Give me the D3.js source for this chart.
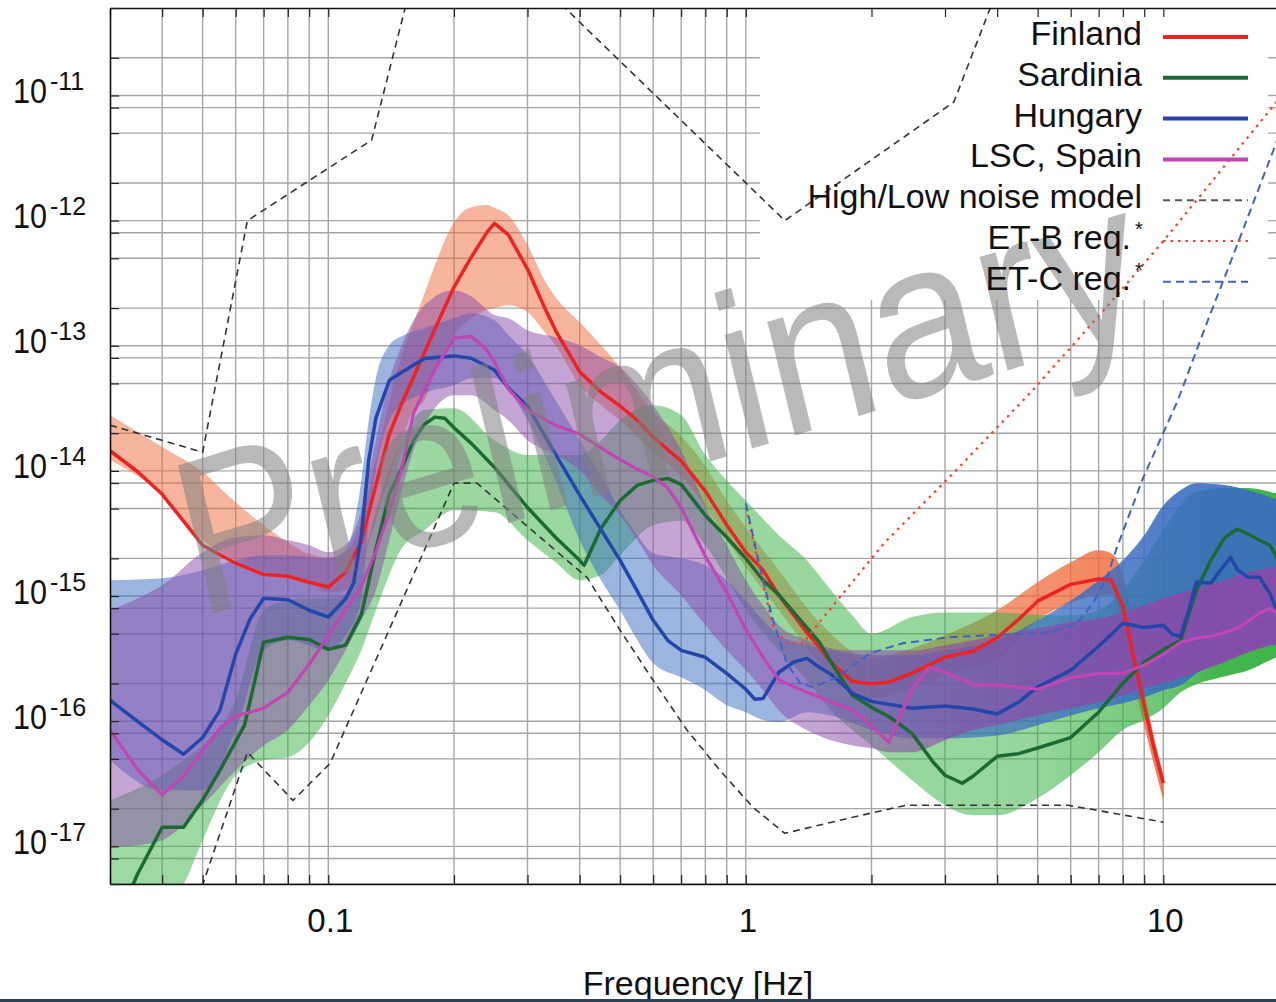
<!DOCTYPE html>
<html>
<head>
<meta charset="utf-8">
<script src="https://cdn.jsdelivr.net/npm/d3@7/dist/d3.min.js"></script>
<style>
	html, body { margin: 0; padding: 0; background: #fff; }
	svg { display: block; font-family: "Liberation Sans", Arial, Helvetica, sans-serif; }
</style>
</head>
<body>
<svg id="chart" width="1276" height="1002"></svg>
<script>

// ---- Finland ----
var finlandFreq = [0.03,0.035,0.04,0.05,0.06,0.07,0.08,0.09,0.1,0.11,0.12,0.13,0.14,0.15,0.16,0.17,0.18,0.2,0.22,0.24,0.25,0.27,0.3,0.33,0.35,0.4,0.45,0.5,0.55,0.6,0.65,0.7,0.8,0.9,1,1.1,1.2,1.3,1.4,1.5,1.6,1.8,2,2.2,2.5,2.8,3,3.5,4,4.5,5,6,7,7.5,8,8.5,9,9.5,10]
var finlandAsd = [1.45e-14,9.8e-15,6.5e-15,2.55e-15,1.83e-15,1.49e-15,1.44e-15,1.29e-15,1.18e-15,1.55e-15,2.72e-15,7.7e-15,1.97e-14,3.47e-14,5.6e-14,8.9e-14,1.36e-13,2.94e-13,5.1e-13,8.1e-13,9.5e-13,7.7e-13,4.1e-13,2.0e-13,1.33e-13,6.2e-14,4.26e-14,3.3e-14,2.54e-14,1.86e-14,1.48e-14,1.2e-14,6.9e-15,3.7e-15,2.24e-15,1.61e-15,1.01e-15,7.1e-16,5.1e-16,3.9e-16,2.96e-16,2.08e-16,1.99e-16,2.05e-16,2.42e-16,2.9e-16,3.24e-16,3.62e-16,4.64e-16,6.5e-16,9.1e-16,1.24e-15,1.37e-15,1.35e-15,8.3e-16,3.18e-16,1.34e-16,6.1e-17,3.2e-17]
var finlandBandFreq = [0.03,0.04,0.05,0.06,0.08,0.09,0.1,0.11,0.12,0.13,0.15,0.16,0.17,0.18,0.2,0.22,0.24,0.25,0.27,0.3,0.33,0.35,0.4,0.45,0.5,0.6,0.7,0.8,0.9,1,1.2,1.5,2,2.5,3,4,5,6,7,7.5,8,8.5,9,10]
var finlandBandHigh = [2.8e-14,1.55e-14,9.8e-15,5.6e-15,2.7e-15,2.16e-15,2.04e-15,2.24e-15,4.0e-15,1.22e-14,8.4e-14,1.52e-13,2.63e-13,4.4e-13,9.7e-13,1.28e-12,1.33e-12,1.26e-12,1.1e-12,6.4e-13,3.3e-13,2.45e-13,1.54e-13,1.01e-13,6.75e-14,2.95e-14,1.89e-14,1.09e-14,5.8e-15,3.55e-15,1.61e-15,6.2e-16,3.18e-16,3.83e-16,4.86e-16,7.7e-16,1.29e-15,1.86e-15,2.32e-15,2.2e-15,1.47e-15,5.3e-16,1.77e-16,3.7e-17]
var finlandBandLow = [1.22e-14,6.4e-15,2.8e-15,1.93e-15,1.39e-15,1.29e-15,1.07e-15,1.11e-15,1.76e-15,4.0e-15,1.76e-14,3.06e-14,3.68e-14,6.4e-14,1.22e-13,1.66e-13,1.93e-13,2.0e-13,2.11e-13,1.86e-13,1.28e-13,1.01e-13,4.85e-14,3.35e-14,2.54e-14,1.41e-14,9.1e-15,5.2e-15,2.8e-15,1.7e-15,7.7e-16,2.96e-16,1.52e-16,1.83e-16,2.33e-16,3.07e-16,6.4e-16,8.9e-16,1.01e-15,1.03e-15,6.2e-16,2.12e-16,9.3e-17,2.33e-17]

// ---- Sardinia ----
var sardiniaFreq = [0.03,0.035,0.04,0.045,0.05,0.055,0.06,0.063,0.07,0.08,0.09,0.1,0.11,0.12,0.13,0.14,0.15,0.16,0.17,0.18,0.19,0.2,0.22,0.25,0.27,0.3,0.35,0.4,0.41,0.45,0.5,0.55,0.6,0.65,0.7,0.8,0.9,1,1.1,1.2,1.4,1.5,1.6,1.8,2,2.2,2.5,2.8,3,3.3,3.5,4,4.5,5,6,7,8,9,10,11,12,13,14,15,16,17,18,20]
var sardiniaAsd = [1.9e-18,6.1e-18,1.42e-17,1.42e-17,2.35e-17,4.05e-17,6.9e-17,9.3e-17,4.28e-16,4.68e-16,4.5e-16,3.75e-16,4.05e-16,7.1e-16,2.37e-15,6.5e-15,1.05e-14,1.76e-14,2.36e-14,2.69e-14,2.64e-14,2.21e-14,1.66e-14,1.07e-14,7.8e-15,5.1e-15,2.95e-15,1.93e-15,1.76e-15,3.48e-15,5.8e-15,7.7e-15,8.4e-15,8.7e-15,7.8e-15,4.4e-15,2.95e-15,2.0e-15,1.34e-15,1.02e-15,5.6e-16,4.28e-16,2.96e-16,1.61e-16,1.29e-16,1.09e-16,8.0e-17,4.78e-17,3.7e-17,3.19e-17,3.63e-17,5.24e-17,5.5e-17,6.1e-17,7.4e-17,1.18e-16,2.01e-16,2.96e-16,3.72e-16,4.43e-16,1.11e-15,1.93e-15,2.9e-15,3.42e-15,3.12e-15,2.79e-15,2.55e-15,1.38e-15]
var sardiniaBandFreq = [0.03,0.04,0.045,0.05,0.06,0.07,0.08,0.09,0.1,0.11,0.12,0.13,0.15,0.17,0.2,0.25,0.3,0.35,0.4,0.45,0.5,0.6,0.7,0.8,0.9,1,1.2,1.4,1.6,1.8,2,2.5,3,3.5,4,5,6,7,8,9,10,11,12,14,16,18,20]
var sardiniaBandHigh = [2.33e-17,3.7e-17,4.87e-17,6.4e-17,1.47e-16,7.7e-16,9.2e-16,9.6e-16,9.6e-16,1.01e-15,1.76e-15,4.85e-15,1.76e-14,3.06e-14,3.17e-14,1.76e-14,1.34e-14,1.34e-14,1.34e-14,1.76e-14,2.54e-14,3.35e-14,2.79e-14,1.34e-14,8.4e-15,5.8e-15,3.06e-15,1.93e-15,1.11e-15,7.0e-16,5.0e-16,6.8e-16,7.4e-16,7.4e-16,7.4e-16,7.1e-16,7.0e-16,7.7e-16,1.11e-15,1.93e-15,3.36e-15,5.3e-15,6.8e-15,7.3e-15,7.3e-15,6.8e-15,6.2e-15]
var sardiniaBandLow = [2.13e-18,3.38e-18,4.97e-18,1.12e-17,3.7e-17,4.87e-17,5.15e-17,6.8e-17,1.11e-16,2.01e-16,3.68e-16,7.7e-16,2.41e-15,3.36e-15,4.85e-15,4.68e-15,2.79e-15,1.86e-15,1.34e-15,1.47e-15,2.12e-15,3.68e-15,4.0e-15,2.55e-15,1.39e-15,7.7e-16,3.68e-16,2.12e-16,1.22e-16,8.5e-17,6.4e-17,3.37e-17,2.13e-17,1.77e-17,1.77e-17,2.42e-17,3.7e-17,5.64e-17,8.5e-17,1.02e-16,1.27e-16,1.70e-16,1.97e-16,2.28e-16,2.55e-16,3.07e-16,3.55e-16]

// ---- Hungary ----
var hungaryFreq = [0.03,0.035,0.04,0.045,0.05,0.055,0.06,0.065,0.07,0.08,0.09,0.1,0.11,0.115,0.12,0.125,0.13,0.14,0.15,0.17,0.2,0.22,0.25,0.27,0.3,0.35,0.4,0.45,0.5,0.55,0.6,0.65,0.7,0.8,0.9,1,1.05,1.1,1.2,1.3,1.4,1.5,1.6,1.8,2,2.5,3,3.5,4,4.5,5,6,7,8,9,10,10.5,11,11.5,12,13,14,14.5,15,16,17,18,20]
var hungaryAsd = [1.47e-16,9.9e-17,7.1e-17,5.44e-17,7.4e-17,1.22e-16,3.43e-16,6.6e-16,9.6e-16,9.35e-16,7.7e-16,6.8e-16,9.5e-16,1.27e-15,3.06e-15,1.22e-14,2.64e-14,5.3e-14,6.15e-14,7.9e-14,8.3e-14,7.95e-14,6.4e-14,4.58e-14,3.29e-14,1.36e-14,6.4e-15,3.39e-15,1.93e-15,1.09e-15,6.4e-16,4.43e-16,3.68e-16,3.24e-16,2.41e-16,1.80e-16,1.50e-16,1.52e-16,2.46e-16,2.96e-16,3.18e-16,2.7e-16,2.37e-16,1.67e-16,1.44e-16,1.27e-16,1.32e-16,1.25e-16,1.14e-16,1.42e-16,1.87e-16,2.55e-16,3.97e-16,6.06e-16,5.6e-16,5.84e-16,4.95e-16,4.77e-16,7.7e-16,1.29e-15,1.27e-15,1.76e-15,2.04e-15,1.64e-15,1.41e-15,1.41e-15,1.05e-15,4.43e-16]
var hungaryBandFreq = [0.03,0.04,0.05,0.06,0.07,0.08,0.1,0.11,0.12,0.125,0.13,0.14,0.15,0.17,0.2,0.22,0.25,0.27,0.3,0.35,0.4,0.45,0.5,0.55,0.6,0.7,0.8,0.9,1,1.1,1.2,1.4,1.6,2,2.5,3,4,5,6,7,8,9,10,11,12,14,16,18,20]
var hungaryBandHigh = [1.34e-15,1.39e-15,1.61e-15,1.93e-15,2.12e-15,2.12e-15,2.0e-15,2.32e-15,8.4e-15,2.54e-14,5.5e-14,1.01e-13,1.19e-13,1.38e-13,1.66e-13,1.82e-13,1.6e-13,1.22e-13,8.4e-14,3.68e-14,1.76e-14,9.2e-15,4.85e-15,3.06e-15,2.2e-15,2.0e-15,1.76e-15,1.34e-15,9.2e-16,6.4e-16,4.86e-16,4.05e-16,3.68e-16,3.36e-16,3.36e-16,3.68e-16,4.43e-16,6.4e-16,9.2e-16,1.34e-15,1.93e-15,3.06e-15,5.3e-15,7.0e-15,7.98e-15,7.7e-15,7.0e-15,6.2e-15,5.3e-15]
var hungaryBandLow = [4.87e-17,2.8e-17,2.8e-17,8.5e-17,3.68e-16,4.43e-16,3.68e-16,4.86e-16,9.2e-16,4.0e-15,1.01e-14,2.54e-14,3.35e-14,4.18e-14,4.85e-14,5.5e-14,5.5e-14,4.42e-14,2.54e-14,8.4e-15,2.8e-15,1.34e-15,7.7e-16,4.43e-16,2.9e-16,2.24e-16,1.77e-16,1.34e-16,1.18e-16,1.02e-16,9.8e-17,1.18e-16,1.11e-16,8.5e-17,7.3e-17,7.3e-17,7.7e-17,9.3e-17,1.11e-16,1.27e-16,1.39e-16,1.55e-16,1.77e-16,1.94e-16,2.41e-16,3.07e-16,3.68e-16,4.05e-16,4.05e-16]

// ---- LSC, Spain ----
var spainFreq = [0.03,0.035,0.04,0.045,0.05,0.055,0.06,0.07,0.08,0.09,0.1,0.11,0.12,0.13,0.14,0.15,0.16,0.17,0.18,0.2,0.22,0.24,0.25,0.27,0.3,0.35,0.4,0.45,0.5,0.55,0.6,0.65,0.7,0.8,0.9,1,1.1,1.2,1.4,1.6,1.8,2,2.2,2.5,2.75,3,3.5,4,4.5,5,6,7,8,9,10,11,12,13,14,15,16,17,18,20]
var spainAsd = [8.5e-17,4.07e-17,2.58e-17,3.63e-17,5.8e-17,8.8e-17,1.1e-16,1.27e-16,1.70e-16,2.85e-16,4.86e-16,7.85e-16,1.2e-15,2.28e-15,4.68e-15,1.05e-14,2.89e-14,4.42e-14,6.5e-14,1.15e-13,1.19e-13,9.2e-14,7.4e-14,4.5e-14,3.06e-14,2.32e-14,1.97e-14,1.53e-14,1.23e-14,1.03e-14,9.0e-15,7.3e-15,5.1e-15,2.08e-15,1.07e-15,5.4e-16,3.24e-16,2.14e-16,1.70e-16,1.43e-16,1.23e-16,9.2e-17,6.8e-17,1.8e-16,2.7e-16,2.46e-16,1.97e-16,1.94e-16,1.87e-16,1.80e-16,2.22e-16,2.41e-16,2.41e-16,2.8e-16,3.43e-16,4.27e-16,4.6e-16,4.77e-16,5.1e-16,5.5e-16,6.3e-16,7.3e-16,8.0e-16,6.4e-16]
var spainBandFreq = [0.03,0.035,0.04,0.05,0.06,0.07,0.08,0.09,0.1,0.11,0.12,0.13,0.14,0.15,0.16,0.17,0.2,0.22,0.25,0.27,0.3,0.35,0.4,0.45,0.5,0.55,0.6,0.7,0.8,0.9,1,1.1,1.2,1.4,1.6,1.8,2,2.2,2.5,3,3.5,4,5,6,7,8,9,10,12,14,16,18,20]
var spainBandHigh = [7.7e-16,9.6e-16,1.22e-15,2.24e-15,2.95e-15,3.06e-15,2.79e-15,2.55e-15,2.24e-15,2.55e-15,4.85e-15,1.76e-14,5.3e-14,1.01e-13,1.6e-13,2.11e-13,2.78e-13,2.49e-13,1.76e-13,1.66e-13,1.33e-13,1.17e-13,1.01e-13,8.1e-14,6.75e-14,4.85e-14,3.35e-14,1.46e-14,5.3e-15,2.55e-15,1.34e-15,8.4e-16,5.84e-16,4.43e-16,3.83e-16,3.68e-16,3.68e-16,3.68e-16,3.68e-16,4.05e-16,4.43e-16,4.86e-16,5.5e-16,6.2e-16,6.6e-16,7.4e-16,8.4e-16,9.6e-16,1.15e-15,1.34e-15,1.55e-15,1.67e-15,1.76e-15]
var spainBandLow = [9.8e-18,1.02e-17,1.12e-17,2.13e-17,4.05e-17,6.4e-17,8.5e-17,1.34e-16,2.12e-16,3.68e-16,6.4e-16,1.11e-15,2.8e-15,7.0e-15,1.46e-14,2.32e-14,4.03e-14,4.03e-14,3.06e-14,2.54e-14,1.76e-14,1.34e-14,1.01e-14,6.4e-15,4.42e-15,2.8e-15,1.76e-15,1.01e-15,5.84e-16,3.68e-16,2.55e-16,1.77e-16,1.22e-16,8.5e-17,7.04e-17,6.4e-17,6.07e-17,5.64e-17,5.64e-17,7.04e-17,8.5e-17,9.3e-17,1.11e-16,1.27e-16,1.42e-16,1.61e-16,1.83e-16,2.01e-16,2.46e-16,2.96e-16,3.55e-16,4.05e-16,4.43e-16]

// ---- reference curves ----
var highModelFreq = [0.03,0.05,0.064,0.127,0.168,0.25,0.369,1.24,3.15,3.85,4.44]
var highModelAsd = [2.32e-14,1.41e-14,1.0e-12,4.4e-12,1.75e-10,1.75e-10,5e-11,1.0e-12,8.86e-12,5e-11,1.75e-10]
var lowModelFreq = [0.0468,0.064,0.0823,0.101,0.2,0.227,0.4165,0.5,0.6,0.723,0.867,1.04,1.24,1.806,2.42,5.91,6.94,10]
var lowModelAsd = [2.56e-18,5.64e-17,2.33e-17,4.6e-17,7.98e-15,7.98e-15,1.41e-15,5.33e-16,2.12e-16,8.5e-17,4.05e-17,2.05e-17,1.27e-17,1.71e-17,2.13e-17,2.13e-17,1.94e-17,1.56e-17]
var etbFreq = [1.0,1.081,1.162,1.255,1.371,1.514,2.143,3.206,4.82,7.21,10,18.34,20]
var etbAsd = [5.1e-15,1.61e-15,5.64e-16,4.2e-16,4.2e-16,6.4e-16,2.64e-15,1.03e-14,4.26e-14,1.93e-13,6.86e-13,8.23e-12,1.19e-11]
var etcFreq = [1.0,1.081,1.162,1.255,1.349,1.449,1.654,1.984,2.379,3.084,5.353,6.214,6.785,7.33,7.745,8.94,10.84,12.73,15.02,18.32,20]
var etcAsd = [5.5e-15,1.7e-15,6.4e-16,2.9e-16,2.01e-16,1.87e-16,2.24e-16,3.49e-16,4.2e-16,4.69e-16,5.13e-16,6.06e-16,8.76e-16,1.41e-15,2.45e-15,8.75e-15,3.68e-14,1.54e-13,6.36e-13,3.6e-12,7.8e-12]

// ---- labels ----
var legendLabels = ['Finland', 'Sardinia', 'Hungary', 'LSC, Spain', 'High/Low noise model', 'ET-B req.', 'ET-C req.']
var yTickExponents = [-11, -12, -13, -14, -15, -16, -17]
var xTickLabels = [0.1, 1, 10]
var xAxisTitle = 'Frequency [Hz]'
var watermarkText = 'Preliminary'


var svg_element = '#chart'
var svg = d3.select(svg_element)
var defs = svg.append('defs')

var plot_left = 110, plot_top = 8, plot_bottom = 884, plot_right = 1289

var xScale = d3.scaleLog().domain([0.03, 20]).range([plot_left, plot_right])
var yScale = d3.scaleLog().domain([5e-18, 5e-11]).range([plot_bottom, plot_top])

defs.append('clipPath').attr('id', 'plot-clip')
	.append('rect')
	.attr('x', plot_left).attr('y', plot_top)
	.attr('width', plot_right - plot_left).attr('height', plot_bottom - plot_top)

// grid positions (log minor grid; y uses 1,2,5,8 per decade like the original)
var xGrid = []
for (var k = -2; k <= 1; k++) {
	for (var m = 1; m <= 9; m++) {
		var v = +(m * Math.pow(10, k)).toPrecision(3)
		if (v >= 0.03 && v <= 20) xGrid.push(v)
	}
}
var yGrid = []
for (var k = -18; k <= -11; k++) {
	[1, 2, 5, 8].forEach(function(m) {
		var v = +(m * Math.pow(10, k)).toPrecision(3)
		if (v >= 5e-18 && v <= 5e-11) yGrid.push(v)
	})
}

var g_grid = svg.append('g').attr('class', 'g-grid').attr('clip-path', 'url(#plot-clip)')
g_grid.selectAll('.vgrid').data(xGrid).enter().append('line')
	.attr('x1', function(d) { return xScale(d) }).attr('x2', function(d) { return xScale(d) })
	.attr('y1', plot_top).attr('y2', plot_bottom)
	.attr('stroke', '#a6a6a6').attr('stroke-width', 1.4)
g_grid.selectAll('.hgrid').data(yGrid).enter().append('line')
	.attr('x1', plot_left).attr('x2', plot_right)
	.attr('y1', function(d) { return yScale(d) }).attr('y2', function(d) { return yScale(d) })
	.attr('stroke', '#a6a6a6').attr('stroke-width', 1.4)

// legend background hides the grid
svg.append('rect')
	.attr('x', 760).attr('y', plot_top + 1)
	.attr('width', 508).attr('height', 291)
	.attr('fill', '#fff')

var plot = svg.append('g').attr('class', 'g-main').attr('clip-path', 'url(#plot-clip)')

// band opacity grows towards high frequency (dense striping in the original)
var bandOpacity = [{f: 0.03, o: 0.5}, {f: 1.5, o: 0.5}, {f: 4, o: 0.68}, {f: 10, o: 0.88}, {f: 20, o: 0.92}]
var greenOpacity = [{f: 0.03, o: 0.48}, {f: 5, o: 0.52}, {f: 10, o: 0.72}, {f: 13, o: 0.92}, {f: 20, o: 0.95}]

function draw_band(freq, low, high, color, id, stops) {
	var grad = defs.append('linearGradient').attr('id', id)
		.attr('gradientUnits', 'userSpaceOnUse')
		.attr('x1', plot_left).attr('x2', plot_right).attr('y1', 0).attr('y2', 0)
	stops.forEach(function(s) {
		grad.append('stop')
			.attr('offset', (xScale(s.f) - plot_left) / (plot_right - plot_left))
			.attr('stop-color', color).attr('stop-opacity', s.o)
	})
	var area = d3.area()
		.x(function(i) { return xScale(freq[i]) })
		.y0(function(i) { return yScale(low[i]) })
		.y1(function(i) { return yScale(high[i]) })
		.curve(d3.curveMonotoneX)
	plot.append('path').datum(d3.range(freq.length))
		.attr('d', area)
		.attr('fill', 'url(#' + id + ')')
}

function draw_line(freq, asd, color, width, dash) {
	var line = d3.line()
		.x(function(i) { return xScale(freq[i]) })
		.y(function(i) { return yScale(asd[i]) })
	plot.append('path').datum(d3.range(freq.length))
		.attr('d', line)
		.attr('fill', 'none')
		.attr('stroke', color)
		.attr('stroke-width', width)
		.attr('stroke-linejoin', 'round')
		.attr('stroke-dasharray', dash || null)
}

draw_band(finlandBandFreq, finlandBandLow, finlandBandHigh, '#f06a3a', 'grad-fin', bandOpacity)
draw_band(sardiniaBandFreq, sardiniaBandLow, sardiniaBandHigh, '#35b040', 'grad-sar', greenOpacity)
draw_band(hungaryBandFreq, hungaryBandLow, hungaryBandHigh, '#3a6cc0', 'grad-hun', bandOpacity)
draw_band(spainBandFreq, spainBandLow, spainBandHigh, '#8a4aa8', 'grad-spa', bandOpacity)

// watermark (the source image is slightly stretched vertically)
svg.append('text')
	.attr('transform', 'translate(198,618) scale(1,1.125) rotate(-15.2)')
	.attr('font-size', 198)
	.attr('fill', '#7f7f7f')
	.attr('fill-opacity', 0.55)
	.text(watermarkText)

draw_line(highModelFreq, highModelAsd, '#333', 1.6, '7,5')
draw_line(lowModelFreq, lowModelAsd, '#333', 1.6, '7,5')

draw_line(finlandFreq, finlandAsd, '#ee2222', 3.5)
draw_line(sardiniaFreq, sardiniaAsd, '#1b6a34', 3.5)
draw_line(hungaryFreq, hungaryAsd, '#2346ab', 3.5)
draw_line(spainFreq, spainAsd, '#c245b4', 3.2)

draw_line(etbFreq, etbAsd, '#ff3b2a', 2.2, '2.5,5')
draw_line(etcFreq, etcAsd, '#4062c4', 2, '8,5')

// axes: ticks point inward, labels drawn by hand
svg.append('g')
	.attr('transform', 'translate(0,' + plot_bottom + ')')
	.call(d3.axisBottom(xScale).tickValues(xGrid).tickSize(-9).tickSizeOuter(0).tickFormat(''))
svg.append('g')
	.attr('transform', 'translate(0,' + plot_top + ')')
	.call(d3.axisTop(xScale).tickValues(xGrid).tickSize(-9).tickSizeOuter(0).tickFormat(''))
svg.append('g')
	.attr('transform', 'translate(' + plot_left + ',0)')
	.call(d3.axisLeft(yScale).tickValues(yGrid).tickSize(-9).tickSizeOuter(0).tickFormat(''))

svg.selectAll('.domain').attr('stroke', '#111').attr('stroke-width', 1.6)
svg.selectAll('.tick line').attr('stroke', '#222').attr('stroke-width', 1.2)

svg.selectAll('.xlab').data(xTickLabels).enter().append('text')
	.attr('x', function(d) { return xScale(d) + 2 })
	.attr('y', 932)
	.attr('text-anchor', 'middle')
	.attr('font-size', 33)
	.attr('fill', '#111')
	.text(function(d) { return d })

yTickExponents.forEach(function(e) {
	var y = yScale(Math.pow(10, e))
	svg.append('text')
		.attr('x', 13).attr('y', y + 7.5)
		.attr('font-size', 35)
		.attr('textLength', 34).attr('lengthAdjust', 'spacingAndGlyphs')
		.attr('fill', '#111')
		.text('10')
	svg.append('text')
		.attr('x', 50).attr('y', y - 5.5)
		.attr('font-size', 25)
		.attr('fill', '#111')
		.text(String(e))
})

svg.append('text')
	.attr('x', 698).attr('y', 995)
	.attr('text-anchor', 'middle')
	.attr('font-size', 34)
	.attr('fill', '#111')
	.text(xAxisTitle)

// legend
var legendStyle = [
	{color: '#ee2222', width: 4, dash: null},
	{color: '#1b6a34', width: 4, dash: null},
	{color: '#2346ab', width: 4, dash: null},
	{color: '#c245b4', width: 4, dash: null},
	{color: '#555', width: 2, dash: '7,5'},
	{color: '#ff3b2a', width: 2.2, dash: '2.5,5'},
	{color: '#4062c4', width: 2, dash: '8,5'}
]
var g_legend = svg.append('g').attr('class', 'g-legend')
legendLabels.forEach(function(label, i) {
	var ly = 37 + i * 40.8
	var tx = i >= 5 ? 1131 : 1142
	g_legend.append('text')
		.attr('x', tx).attr('y', ly + 8)
		.attr('text-anchor', 'end')
		.attr('font-size', 34)
		.attr('fill', '#111')
		.text(label)
	g_legend.append('line')
		.attr('x1', 1163).attr('x2', 1248)
		.attr('y1', ly).attr('y2', ly)
		.attr('stroke', legendStyle[i].color)
		.attr('stroke-width', legendStyle[i].width)
		.attr('stroke-dasharray', legendStyle[i].dash)
	if (i >= 5) {
		// superscript marker, kept clear of the row above
		g_legend.append('text')
			.attr('x', 1139).attr('y', ly - 5)
			.attr('text-anchor', 'middle')
			.attr('font-size', 20)
			.attr('fill', '#111')
			.text('*')
	}
})

// thin dark strip along the bottom edge of the screenshot
svg.append('rect').attr('x', 0).attr('y', 999).attr('width', 1276).attr('height', 3).attr('fill', '#2d4157')

</script>
</body>
</html>
